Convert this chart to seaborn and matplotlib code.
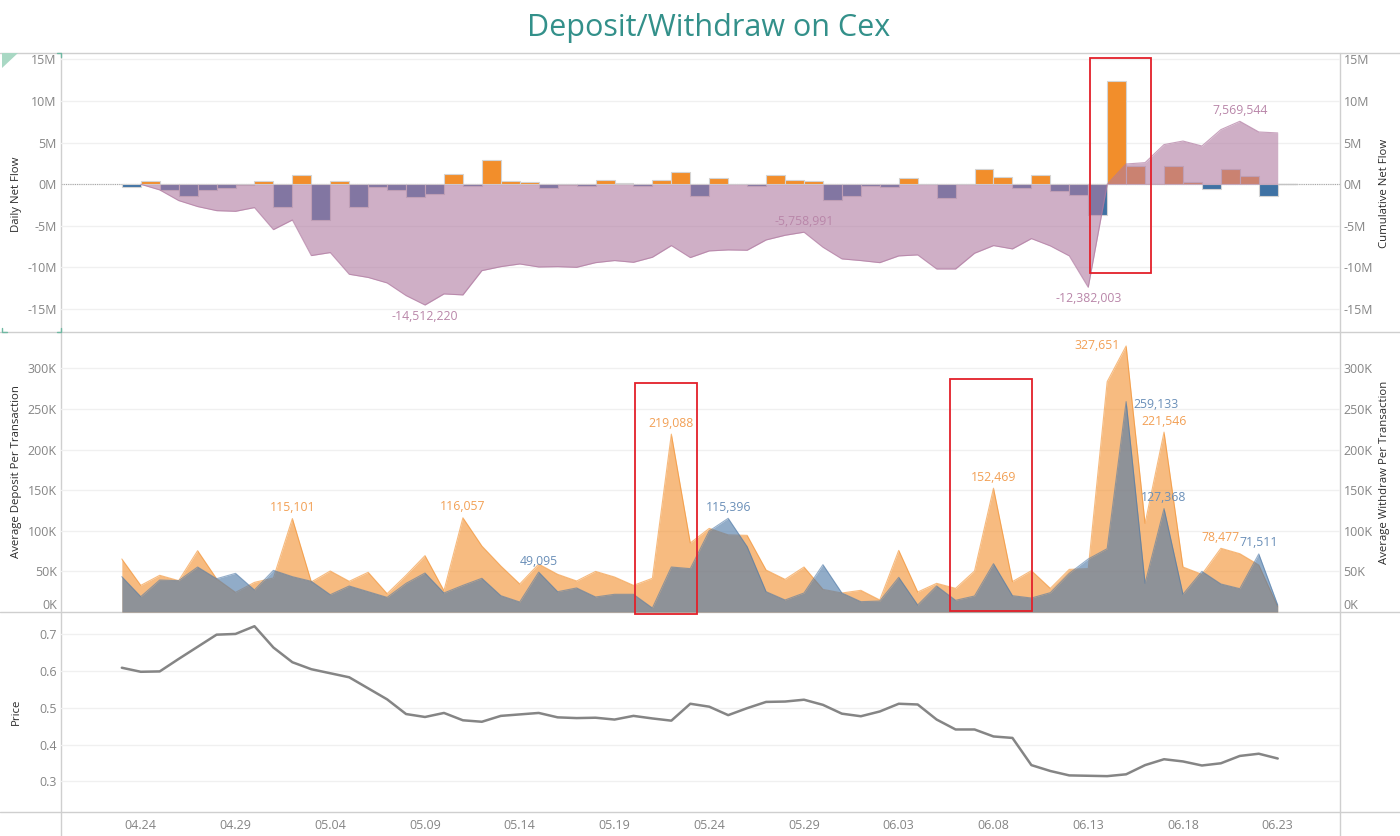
#!/usr/bin/env python3
"""
Deposit/Withdraw on Cex - three stacked panels sharing a daily axis
"""
import pandas as pd
import matplotlib
matplotlib.use("Agg")
import matplotlib.pyplot as plt
from matplotlib.patches import Rectangle, Polygon
from matplotlib.lines import Line2D
import matplotlib.dates as mdates
import seaborn as sns

# millions, each bar covers the day after its date
daily_net_flow = [
    -0.32, 0.36, -0.68, -1.4, -0.68, -0.4, -0.12, 0.44, -2.7, 1.16, -4.33, 0.36,
    -2.68, -0.3, -0.68, -1.52, -1.16, 1.28, -0.16, 2.9, 0.44, 0.28, -0.44, -0.04,
    -0.16, 0.48, 0.16, -0.2, 0.52, 1.44, -1.45, 0.72, 0.08, -0.16, 1.16, 0.52,
    0.36, -1.84, -1.4, -0.2, -0.28, 0.8, 0.08, -1.68, -0.02, 1.8, 0.88, -0.4,
    1.16, -0.84, -1.32, -3.69, 12.46, 2.24, 0.02, 2.16, 0.24, -0.56, 1.88, 1.0, -1.4,
]
# millions, starts on the second date
cumulative_net_flow = [
    0.0, -0.68, -1.96, -2.68, -3.17, -3.25, -2.8, -5.45, -4.29, -8.57, -8.21,
    -10.82, -11.2, -11.86, -13.38, -14.512, -13.18, -13.3, -10.38, -9.9, -9.58,
    -9.94, -9.9, -9.98, -9.42, -9.17, -9.38, -8.77, -7.37, -8.81, -8.01, -7.89,
    -7.93, -6.69, -6.13, -5.759, -7.57, -8.97, -9.17, -9.42, -8.61, -8.49, -10.18,
    -10.18, -8.29, -7.37, -7.77, -6.53, -7.41, -8.61, -12.382, 0.0, 2.44, 2.6,
    4.77, 5.2, 4.6, 6.57, 7.57, 6.29, 6.17,
]
# thousands
avg_deposit = [
    65.3, 32.8, 45.2, 38.6, 75.5, 41, 24.2, 36.5, 41.9, 115.101, 37, 50.5, 37.8,
    48.9, 22.6, 45.2, 69.4, 26.3, 116.057, 81.3, 56.7, 34.5, 59, 46.4, 38.2, 50,
    43.1, 32.8, 41.5, 219.088, 85, 103, 95, 94.4, 51.7, 40.2, 55.4, 27.9, 23.4,
    26.7, 14.8, 75.9, 24.6, 35.3, 29.1, 50.5, 152.469, 37.4, 50.9, 29.1, 52.5,
    53.4, 283.7, 327.651, 109.2, 221.546, 55.4, 46.4, 78.477, 71.8, 57.9, 6.5,
]
avg_withdraw = [
    43.5, 18.9, 39.4, 38.6, 55.4, 41, 47.6, 27.1, 51.3, 43.5, 37.8, 21.3, 32, 25,
    18, 35.3, 48, 23.4, 32.8, 41.5, 20.1, 12.3, 49.095, 25, 29.6, 18.5, 21.8, 21.8,
    4.9, 55.4, 53.4, 99.8, 115.396, 80.5, 25, 14.8, 23.4, 58.3, 23.4, 12.7, 13.5,
    42.7, 8.6, 32, 14.4, 19.7, 59.5, 20.1, 17.2, 23.8, 47.6, 65.3, 78, 259.133,
    35.3, 127.368, 21.8, 50, 34.5, 28.7, 71.511, 8.6,
]
price = [
    .609, .598, .599, .633, .666, .699, .701, .722, .664, .624, .605, .594, .583,
    .553, .523, .483, .475, .486, .466, .462, .478, .482, .486, .474, .472, .473,
    .468, .478, .471, .465, .511, .503, .480, .499, .516, .517, .522, .508, .484,
    .477, .490, .511, .509, .468, .441, .441, .422, .418, .344, .328, .316, .315,
    .314, .319, .344, .360, .354, .343, .349, .369, .375, .362,
]
dates = pd.date_range("2023-04-23", "2023-06-23", freq="D")
tick_dates = dates[1::5]

flow_ticks = [-15, -10, -5, 0, 5, 10, 15]
avg_ticks = [0, 50, 100, 150, 200, 250, 300]
price_ticks = [0.3, 0.4, 0.5, 0.6, 0.7]

ORANGE = "#f28e2b"
BLUE = "#3f72a4"
AREA_BLUE = "#4e79a7"
PURPLE = "#b07aa1"
TEAL = "#33908a"
CORNER = "#6fb8a2"
TICK_GREY = "#858585"
LABEL_GREY = "#2b2b2b"
ORANGE_TEXT = "#f2a055"
BLUE_TEXT = "#6a8fb8"
PURPLE_TEXT = "#b986a9"
GRID = "#f0f0f0"
RULE = "#cfcfcf"
W, H = 1400, 836

sns.set_theme(style="white")
plt.rcParams["font.family"] = ["Open Sans", "DejaVu Sans"]


def panel_axes(fig, top, bottom):
    return fig.add_axes([61 / W, 1 - bottom / H, (1339.5 - 61) / W, (bottom - top) / H])


def style_axis(ax, ticks, ylim, fmt, ylabel):
    ax.set_ylim(*ylim)
    ax.set_yticks(ticks)
    ax.set_yticklabels([fmt(t) for t in ticks])
    ax.set_ylabel(ylabel, fontsize=8.2, color=LABEL_GREY)
    ax.tick_params(axis="y", length=0, labelsize=9, labelcolor=TICK_GREY, pad=3)
    ax.grid(axis="y", color=GRID, linewidth=1)
    ax.set_axisbelow(True)
    for spine in ax.spines.values():
        spine.set_visible(False)


def add_right_axis(ax, ticks, ylim, fmt, ylabel):
    right = ax.twinx()
    right.set_ylim(*ylim)
    right.set_yticks(ticks)
    right.set_yticklabels([fmt(t) for t in ticks])
    right.set_ylabel(ylabel, fontsize=8.2, color=LABEL_GREY)
    right.tick_params(axis="y", length=0, labelsize=9, labelcolor=TICK_GREY, pad=3)
    right.grid(False)
    for spine in right.spines.values():
        spine.set_visible(False)
    return right


def value_label(ax, x, y, text, color, dx=0, dy=11):
    ax.annotate(text, (x, y), xytext=(dx * 0.72, dy * 0.72), textcoords="offset points",
                ha="center", va="center", fontsize=8.8, color=color, zorder=10)


fig = plt.figure(figsize=(W / 100, H / 100), dpi=100)
ax1 = panel_axes(fig, 53.5, 332.7)
ax2 = panel_axes(fig, 332.7, 612)
ax3 = panel_axes(fig, 612, 812.3)
xlim = (dates[0] - pd.Timedelta(days=3.21), dates[-1] + pd.Timedelta(days=3.26))

# net flow panel
flow_ylim = (-17.84, 15.72)
m_fmt = lambda t: f"{t}M"
style_axis(ax1, flow_ticks, flow_ylim, m_fmt, "Daily Net Flow")
add_right_axis(ax1, flow_ticks, flow_ylim, m_fmt, "Cumulative Net Flow")
bar_colors = [ORANGE if v > 0 else BLUE for v in daily_net_flow]
ax1.bar(dates[:-1], daily_net_flow, width=1, align="edge", color=bar_colors,
        edgecolor="#d4d4d4", linewidth=0.8, zorder=2)
ax1.axhline(0, color="#a8a8a8", linewidth=0.8, linestyle=(0, (1, 1)), zorder=1)
ax1.plot([dates[-1], dates[-1] + pd.Timedelta(days=1)], [0, 0], color="#c4c4c4", linewidth=1, zorder=1)
ax1.fill_between(dates[1:], cumulative_net_flow, 0, color=PURPLE, alpha=0.6, linewidth=0, zorder=3)
sns.lineplot(x=dates[1:], y=cumulative_net_flow, ax=ax1, color=PURPLE, linewidth=0.8,
             alpha=0.7, zorder=3, errorbar=None)
value_label(ax1, dates[16], -14.512, "-14,512,220", PURPLE_TEXT, dy=-11)
value_label(ax1, dates[36], -5.759, "-5,758,991", PURPLE_TEXT)
value_label(ax1, dates[51], -12.382, "-12,382,003", PURPLE_TEXT, dy=-11)
value_label(ax1, dates[59], 7.57, "7,569,544", PURPLE_TEXT)

# average deposit and withdraw panel
avg_ylim = (0, 344)
k_fmt = lambda t: f"{t}K"
style_axis(ax2, avg_ticks, avg_ylim, k_fmt, "Average Deposit Per Transaction")
right2 = add_right_axis(ax2, avg_ticks, avg_ylim, k_fmt, "Average Withdraw Per Transaction")
for axis in (ax2, right2):
    axis.get_yticklabels()[0].set_va("bottom")
ax2.fill_between(dates, avg_deposit, 0, color=ORANGE, alpha=0.6, linewidth=0, zorder=2)
sns.lineplot(x=dates, y=avg_deposit, ax=ax2, color=ORANGE, linewidth=0.8, alpha=0.6,
             zorder=2, errorbar=None)
ax2.fill_between(dates, avg_withdraw, 0, color=AREA_BLUE, alpha=0.62, linewidth=0, zorder=3)
sns.lineplot(x=dates, y=avg_withdraw, ax=ax2, color=AREA_BLUE, linewidth=0.8, alpha=0.6,
             zorder=3, errorbar=None)
value_label(ax2, dates[9], 115.101, "115,101", ORANGE_TEXT)
value_label(ax2, dates[18], 116.057, "116,057", ORANGE_TEXT)
value_label(ax2, dates[29], 219.088, "219,088", ORANGE_TEXT)
value_label(ax2, dates[46], 152.469, "152,469", ORANGE_TEXT)
value_label(ax2, dates[53], 327.651, "327,651", ORANGE_TEXT, dx=-29, dy=0)
value_label(ax2, dates[55], 221.546, "221,546", ORANGE_TEXT)
value_label(ax2, dates[58], 78.477, "78,477", ORANGE_TEXT)
value_label(ax2, dates[22], 49.095, "49,095", BLUE_TEXT)
value_label(ax2, dates[32], 115.396, "115,396", BLUE_TEXT)
value_label(ax2, dates[53], 259.133, "259,133", BLUE_TEXT, dx=30, dy=-3)
value_label(ax2, dates[55], 127.368, "127,368", BLUE_TEXT)
value_label(ax2, dates[60], 71.511, "71,511", BLUE_TEXT)

# price panel
style_axis(ax3, price_ticks, (0.2156, 0.7607), lambda t: f"{t:.1f}", "Price")
sns.lineplot(x=dates, y=price, ax=ax3, color="#858585", linewidth=1.8, errorbar=None)

for ax in (ax1, ax2, ax3):
    ax.set_xlim(*xlim)
    ax.set_xlabel("")
    ax.patch.set_alpha(0)
ax2.set_zorder(2)
ax1.set_zorder(2)
for ax in (ax1, ax2):
    ax.tick_params(axis="x", bottom=False, labelbottom=False)
ax3.set_xticks(tick_dates)
ax3.xaxis.set_major_formatter(mdates.DateFormatter("%m.%d"))
ax3.tick_params(axis="x", length=2, width=0.6, color=RULE, labelsize=9, labelcolor=TICK_GREY, pad=3)

ax1.yaxis.set_label_coords(22 / W, 1 - 194 / H, transform=fig.transFigure)
ax2.yaxis.set_label_coords(22 / W, 1 - 472 / H, transform=fig.transFigure)
ax3.yaxis.set_label_coords(22 / W, 1 - 712 / H, transform=fig.transFigure)
for axis in fig.axes:
    if axis not in (ax1, ax2, ax3):
        box = axis.get_position()
        axis.yaxis.set_label_coords(1379 / W, box.y0 + box.height / 2, transform=fig.transFigure)

# frame rules, in pixels of the figure
px = fig.transFigure
for y in (53, 332.2, 611.5, 811.8):
    fig.add_artist(Line2D([0, 1], [1 - y / H] * 2, color=RULE, linewidth=1, transform=px, zorder=0))
for x in (61, 1339.5):
    fig.add_artist(Line2D([x / W] * 2, [0, 1 - 53 / H], color=RULE, linewidth=1, transform=px, zorder=0))

# red highlight boxes
for x0, y0, x1, y1 in [(1090, 57.5, 1151, 273), (634.5, 383, 697, 614), (950, 379, 1032, 611)]:
    fig.add_artist(Rectangle((x0 / W, 1 - y1 / H), (x1 - x0) / W, (y1 - y0) / H, fill=False,
                             edgecolor="#e3202a", linewidth=1.3, transform=px, zorder=20))

# selection marks on the corners of the first panel
fig.add_artist(Polygon([(2 / W, 1 - 53 / H), (18 / W, 1 - 53 / H), (2 / W, 1 - 68 / H)],
                       closed=True, facecolor="#a9d8c4", edgecolor="none", transform=px, zorder=20))
for xs, ys in [([57, 61, 61], [53, 53, 57]), ([2, 2, 7], [328, 332, 332]), ([57, 61, 61], [332, 332, 328])]:
    fig.add_artist(Line2D([x / W for x in xs], [1 - y / H for y in ys], color=CORNER,
                          linewidth=1, transform=px, zorder=20))

fig.text(709 / W, 1 - 28 / H, "Deposit/Withdraw on Cex", color=TEAL, fontsize=22,
         ha="center", va="center")

plt.savefig("out.png", dpi=100)
plt.close()
